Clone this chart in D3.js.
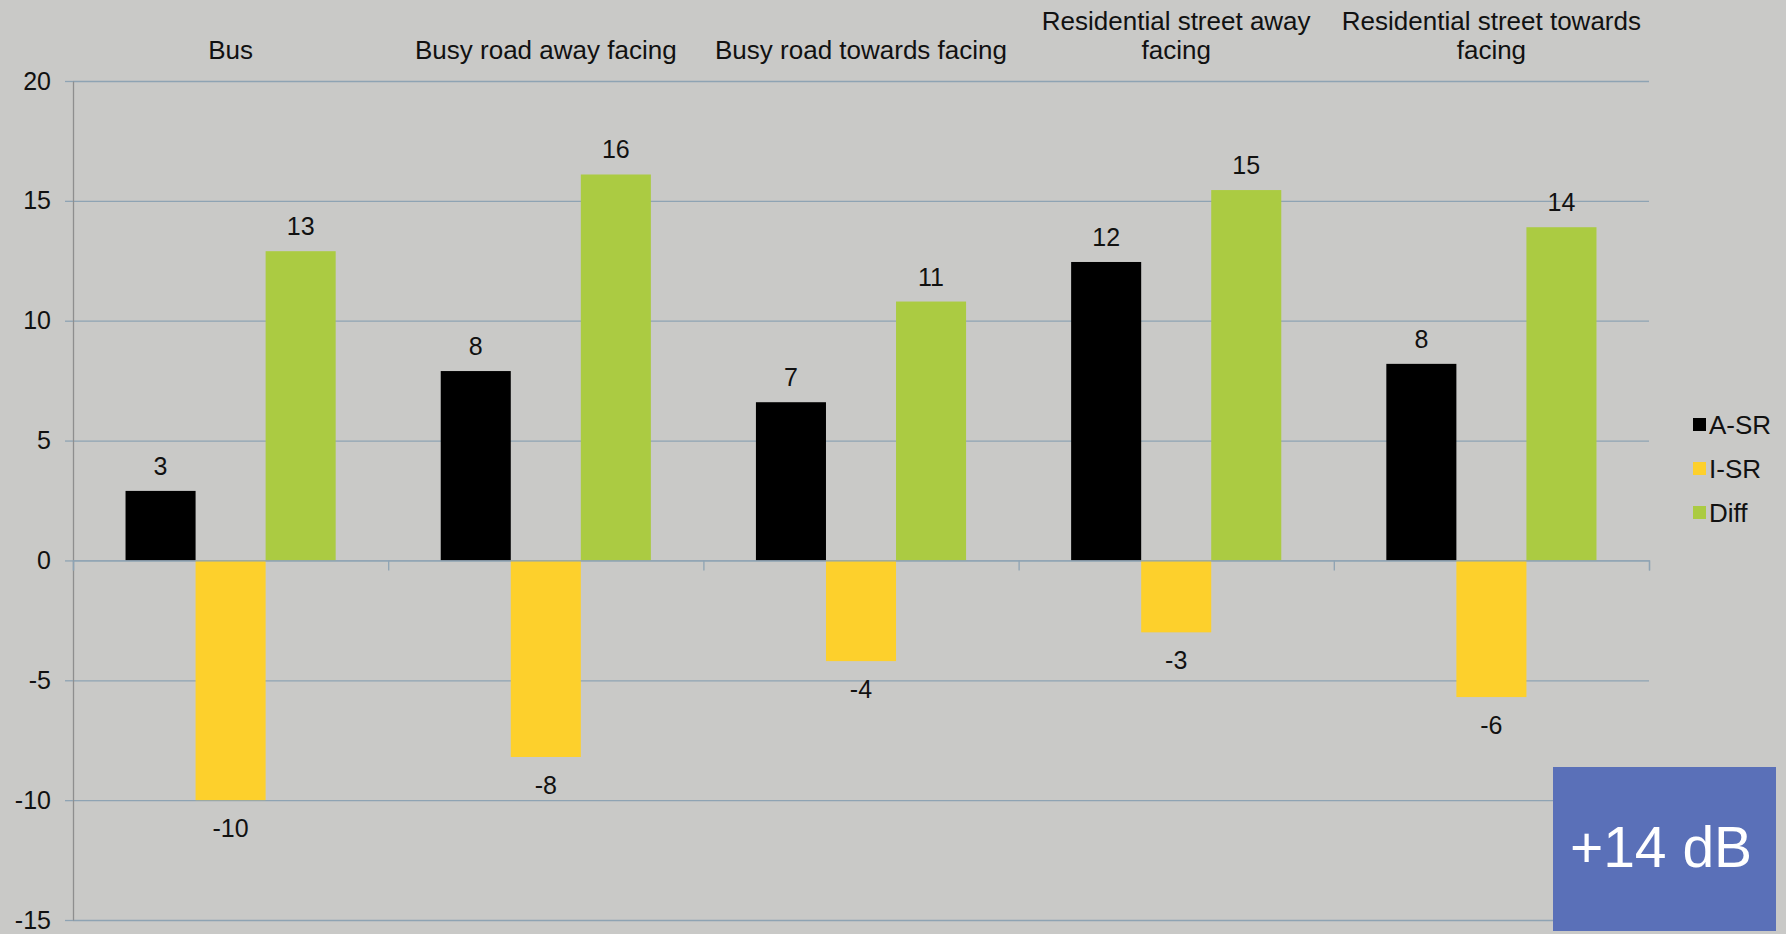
<!DOCTYPE html>
<html>
<head>
<meta charset="utf-8">
<script src="https://cdn.jsdelivr.net/npm/d3@7"></script>
<style>
  html, body { margin: 0; padding: 0; background: #c9c9c7; }
  svg { display: block; font-family: "Liberation Sans", Arial, sans-serif; }
</style>
</head>
<body>
<svg id="chart" width="1786" height="934"></svg>
<script>
// Measurement sites
const categories = [
  "Bus",
  "Busy road away facing",
  "Busy road towards facing",
  "Residential street away facing",
  "Residential street towards facing"
];

// Series values (dB)
const seriesNames = ["A-SR", "I-SR", "Diff"];
const aSR  = [2.9, 7.9, 6.6, 12.45, 8.2];
const iSR  = [-10.0, -8.2, -4.2, -3.0, -5.7];
const diff = [12.9, 16.1, 10.8, 15.45, 13.9];

// Value axis ticks
const yTicks = [-15, -10, -5, 0, 5, 10, 15, 20];

const calloutText = "+14 dB";

const seriesValues = [aSR, iSR, diff];
const colors = ["#000000", "#fdd02c", "#abcb42"];

const W = 1786, H = 934;
const plot = { left: 73, right: 1649, top: 81, bottom: 920 };

const svg = d3.select("#chart");
svg.append("rect").attr("width", W).attr("height", H).attr("fill", "#c9c9c7");

const y = d3.scaleLinear().domain([-15, 20]).range([plot.bottom, plot.top]);

const x0 = d3.scaleBand().domain(categories).range([plot.left, plot.right]).padding(0);
const x1 = d3.scaleBand().domain(seriesNames).range([0, x0.bandwidth()])
  .paddingInner(0).paddingOuter(0.75);

// horizontal gridlines
svg.append("g")
  .attr("transform", `translate(${plot.left},0)`)
  .call(d3.axisLeft(y).tickValues(yTicks).tickSize(-(plot.right - plot.left)).tickFormat(""))
  .call(g => g.select(".domain").remove())
  .call(g => g.selectAll("line").attr("stroke", "#8ea3b3").attr("stroke-width", 1.3));

// value axis with labels
svg.append("g")
  .attr("transform", `translate(${plot.left},0)`)
  .call(d3.axisLeft(y).tickValues(yTicks).tickSizeInner(8).tickSizeOuter(0).tickPadding(14)
    .tickFormat(d => String(d)))
  .call(g => g.select(".domain").attr("stroke", "#8e8e8e").attr("stroke-width", 1.3))
  .call(g => g.selectAll("line").attr("stroke", "#8ea3b3").attr("stroke-width", 1.3))
  .call(g => g.selectAll("text").attr("fill", "#111").attr("font-size", 25)
    .attr("font-family", "Liberation Sans, Arial, sans-serif"));

// bars
const groups = svg.append("g").selectAll("g")
  .data(categories)
  .join("g")
  .attr("transform", d => `translate(${x0(d)},0)`);

groups.selectAll("rect")
  .data((c, i) => seriesNames.map((s, k) => ({ s, k, v: seriesValues[k][i] })))
  .join("rect")
  .attr("x", d => x1(d.s))
  .attr("width", x1.bandwidth())
  .attr("y", d => y(Math.max(0, d.v)))
  .attr("height", d => Math.abs(y(d.v) - y(0)))
  .attr("fill", d => colors[d.k]);

// category axis along zero with group boundary ticks
const xb = d3.scaleLinear().domain([0, categories.length]).range([plot.left, plot.right]);
svg.append("g")
  .attr("transform", `translate(0,${y(0)})`)
  .call(d3.axisBottom(xb).ticks(categories.length).tickSize(10).tickFormat(""))
  .call(g => g.select(".domain").attr("stroke", "#8ea3b3").attr("stroke-width", 1.3))
  .call(g => g.selectAll("line").attr("stroke", "#8ea3b3").attr("stroke-width", 1.3));

// value labels
groups.selectAll("text.val")
  .data((c, i) => seriesNames.map((s, k) => ({ s, k, v: seriesValues[k][i] })))
  .join("text")
  .attr("class", "val")
  .attr("x", d => x1(d.s) + x1.bandwidth() / 2)
  .attr("y", d => d.v >= 0 ? y(d.v) - 16 : y(d.v) + 37)
  .attr("text-anchor", "middle")
  .attr("font-size", 25)
  .attr("fill", "#111")
  .text(d => String(Math.round(d.v)));

// category titles above plot, wrapped to the band width
const titleG = svg.append("g");
categories.forEach(c => {
  const cx = x0(c) + x0.bandwidth() / 2;
  const words = c.split(" ");
  const lines = [];
  const probe = titleG.append("text").attr("font-size", 26);
  let line = [];
  words.forEach(w => {
    const trial = line.concat(w).join(" ");
    probe.text(trial);
    if (probe.node().getComputedTextLength() > x0.bandwidth() - 8 && line.length) {
      lines.push(line.join(" "));
      line = [w];
    } else {
      line.push(w);
    }
  });
  lines.push(line.join(" "));
  probe.remove();
  const lastBase = 59, lh = 29.5;
  lines.forEach((ln, i) => {
    titleG.append("text")
      .attr("x", cx)
      .attr("y", lastBase - (lines.length - 1 - i) * lh)
      .attr("text-anchor", "middle")
      .attr("font-size", 26)
      .attr("fill", "#111")
      .text(ln);
  });
});

// legend
const legend = svg.append("g").attr("transform", "translate(1693,425)");
const li = legend.selectAll("g").data(seriesNames).join("g")
  .attr("transform", (d, i) => `translate(0,${i * 44})`);
li.append("rect").attr("x", 0).attr("y", -7).attr("width", 13).attr("height", 13)
  .attr("fill", (d, i) => colors[i]);
li.append("text").attr("x", 16).attr("y", 9).attr("font-size", 26).attr("fill", "#111")
  .text(d => d);

// callout box
const box = svg.append("g");
box.append("rect").attr("x", 1553).attr("y", 767).attr("width", 223).attr("height", 164)
  .attr("fill", "#5a70b8");
box.append("text").attr("x", 1661).attr("y", 867).attr("text-anchor", "middle")
  .attr("font-size", 57).attr("fill", "#ffffff").text(calloutText);
</script>
</body>
</html>
